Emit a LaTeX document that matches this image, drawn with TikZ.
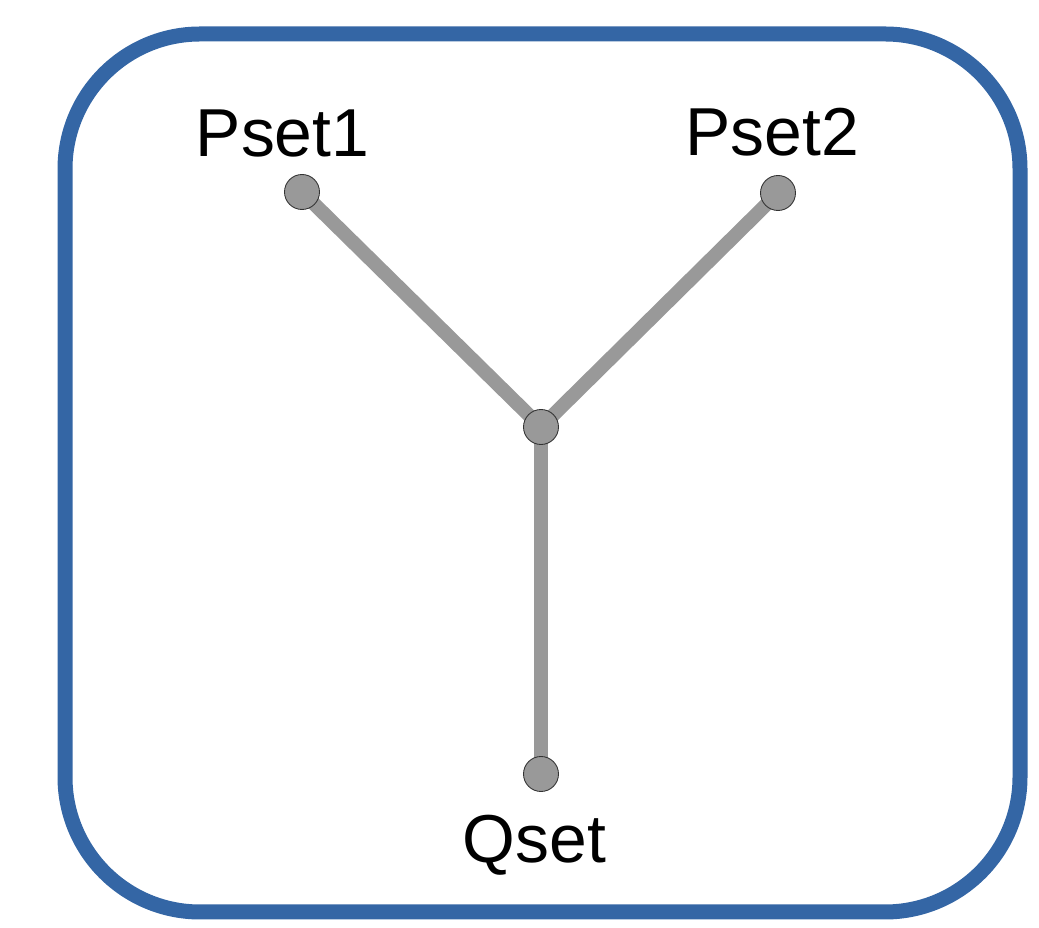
\documentclass[tikz,border=0pt]{standalone}
\usepackage{fontspec}
\setmainfont{Liberation Sans}
\usetikzlibrary{positioning,backgrounds}

\definecolor{frameblue}{HTML}{3466A5}
\definecolor{edgegray}{HTML}{999999}

\tikzset{
  dot/.style={circle, fill=edgegray, draw=black!80, line width=0.5pt, minimum size=0.7cm, inner sep=0pt},
  edge/.style={edgegray, line width=0.28cm},
  setlabel/.style={anchor=base, inner sep=0pt, font=\fontsize{38.6}{46}\selectfont}
}

\begin{document}
\begin{tikzpicture}
      %\draw[help lines] (0, 0) grid (21, 19);
      \useasboundingbox (0, 0) rectangle (20.78, 18.56);

      \draw[frameblue, line width=0.3cm, rounded corners=2.7cm] (1.30, 0.32) rectangle (20.40, 17.88);

      \node[dot] (pset1) at (6.04, 14.72) {};
      \node[dot] (pset2) at (15.56, 14.70) {};
      \node[dot] (mid)   at (10.82, 10.02) {};
      \node[dot] (qset)  at (10.82, 3.08) {};

      % edges go under the dots
      \begin{scope}[on background layer]
        \draw[edge] (pset1.center) -- (mid.center);
        \draw[edge] (pset2.center) -- (mid.center);
        \draw[edge] (qset.center) -- (mid.center);
      \end{scope}

      \node[setlabel] (lp1) at (5.65, 15.43) {Pset1};
      \node[setlabel] (lp2) at (15.44, 15.45) {Pset2};
      \node[setlabel] (lq)  at (10.69, 1.30) {Qset};
\end{tikzpicture}
\end{document}
